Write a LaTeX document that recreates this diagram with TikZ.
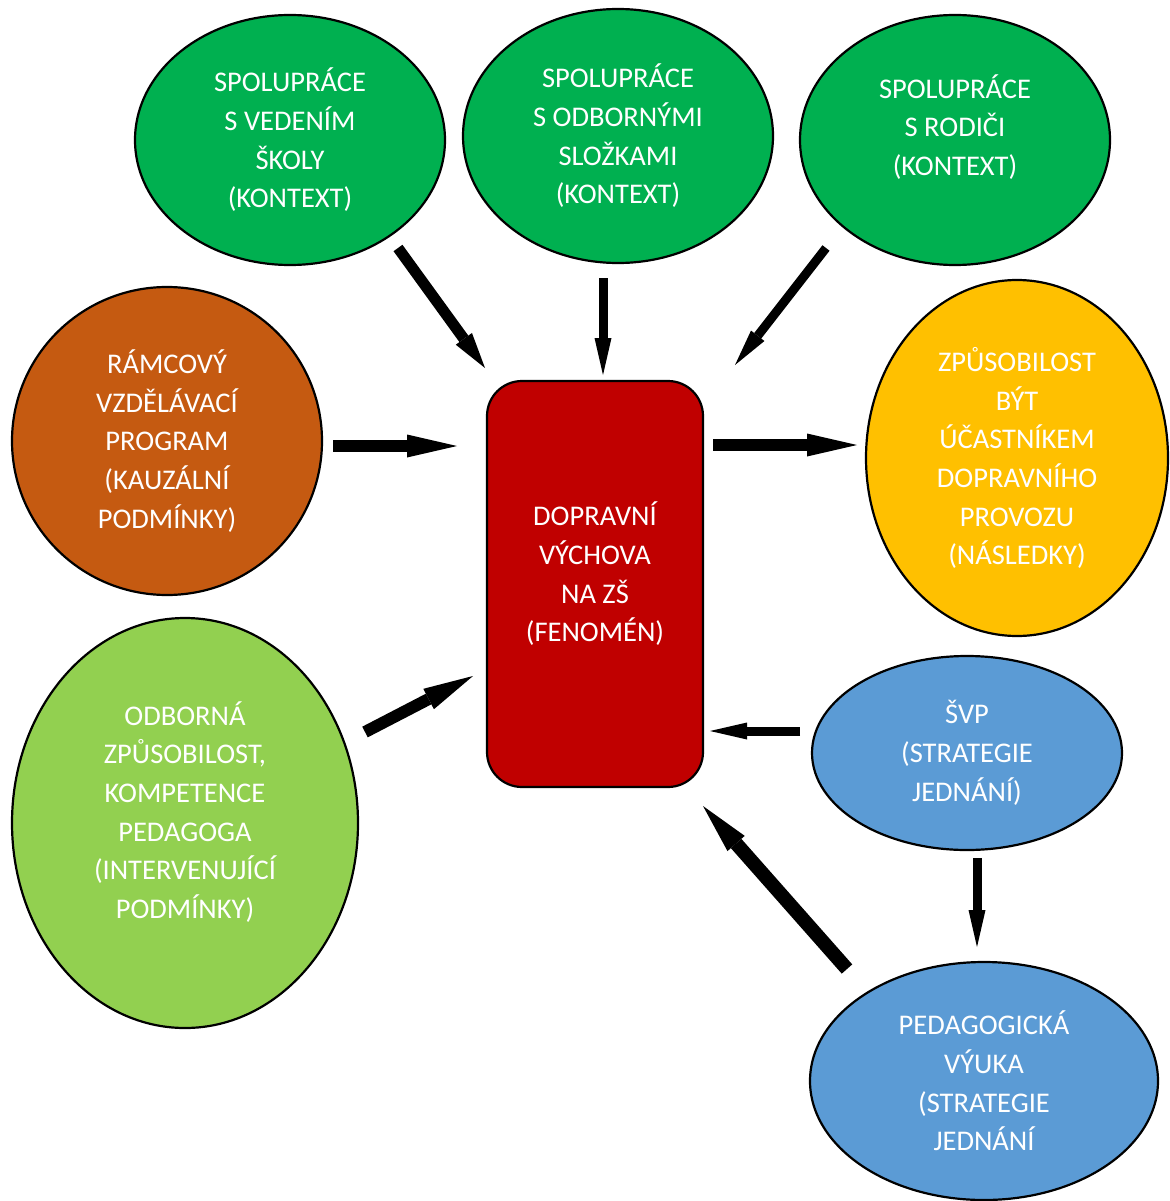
\documentclass[tikz,border=0pt]{standalone}
\usepackage{fontspec}
\setmainfont{Carlito}
\usetikzlibrary{shapes.geometric,arrows.meta}
\definecolor{kgreen}{HTML}{00B050}
\definecolor{kbrown}{HTML}{C55A11}
\definecolor{kred}{HTML}{C00000}
\definecolor{kyellow}{HTML}{FFC000}
\definecolor{klime}{HTML}{92D050}
\definecolor{kblue}{HTML}{5B9BD5}

\begin{document}
\begin{tikzpicture}[x=1pt,y=-1pt,
  ell/.style={ellipse,draw=black,line width=2.2pt,inner sep=0pt,text=white,align=center,font=\fontsize{28.5}{38.7}\selectfont},
  lbl/.style={text=white,align=center,font=\fontsize{28.5}{38.7}\selectfont},
  bigarrow/.style={line width=12pt,-{Triangle[length=50pt,width=23pt,line width=0pt]}},
  midarrow/.style={line width=11pt,-{Triangle[length=36pt,width=20pt,line width=0pt]}},
  smallarrow/.style={line width=9pt,-{Triangle[length=37pt,width=17pt,line width=0pt]}}]
\useasboundingbox (0,0) rectangle (1169,1201);
\node [ell,fill=kgreen,minimum width=310,minimum height=250] (vedeni) at (290,140) {SPOLUPRÁCE\\S VEDENÍM\\ŠKOLY\\(KONTEXT)};
\node [ell,fill=kgreen,minimum width=310,minimum height=254] (odborne) at (618,136) {SPOLUPRÁCE\\S ODBORNÝMI\\SLOŽKAMI\\(KONTEXT)};
\node [ell,fill=kgreen,minimum width=310,minimum height=250,label={[lbl,yshift=13pt]center:SPOLUPRÁCE\\S RODIČI\\(KONTEXT)}] (rodice) at (955,140) {};
\node [ell,fill=kbrown,minimum width=310,minimum height=308] (ramcovy) at (167,441) {RÁMCOVÝ\\VZDĚLÁVACÍ\\PROGRAM\\(KAUZÁLNÍ\\PODMÍNKY)};
\node [draw=black,line width=2.2pt,fill=kred,rounded corners=35pt,minimum width=216,minimum height=406,label={[lbl,yshift=10pt]center:DOPRAVNÍ\\VÝCHOVA\\NA ZŠ\\(FENOMÉN)}] (fenomen) at (595,584) {};
\node [ell,fill=kyellow,minimum width=302,minimum height=356] (nasledky) at (1017,458) {ZPŮSOBILOST\\BÝT\\ÚČASTNÍKEM\\DOPRAVNÍHO\\PROVOZU\\(NÁSLEDKY)};
\node [ell,fill=klime,minimum width=346,minimum height=410,label={[lbl,yshift=11pt]center:{ODBORNÁ\\ZPŮSOBILOST,\\KOMPETENCE\\PEDAGOGA\\(INTERVENUJÍCÍ\\PODMÍNKY)}}] (kompetence) at (185,823) {};
\node [ell,fill=kblue,minimum width=310,minimum height=194] (svp) at (967,753) {ŠVP\\(STRATEGIE\\JEDNÁNÍ)};
\node [ell,fill=kblue,minimum width=348,minimum height=238] (vyuka) at (984,1081) {PEDAGOGICKÁ\\VÝUKA\\(STRATEGIE\\JEDNÁNÍ};
\draw [midarrow] ([shift={(108,108)}]vedeni.center) -- ([shift={(-110,-216)}]fenomen.center);
\draw [smallarrow] ([shift={(-15,142)}]odborne.center) -- ([shift={(8,-209)}]fenomen.center);
\draw [smallarrow] ([shift={(-129,108)}]rodice.center) -- ([shift={(140,-219)}]fenomen.center);
\draw [bigarrow] ([shift={(166,5)}]ramcovy.center) -- ([shift={(-138,-138)}]fenomen.center);
\draw [bigarrow] ([shift={(118,-139)}]fenomen.center) -- ([shift={(-160,-13)}]nasledky.center);
\draw [bigarrow] ([shift={(180,-91)}]kompetence.center) -- ([shift={(-122,92)}]fenomen.center);
\draw [smallarrow] ([shift={(-167,-22)}]svp.center) -- ([shift={(115,147)}]fenomen.center);
\draw [smallarrow] ([shift={(10,105)}]svp.center) -- ([shift={(-7,-134)}]vyuka.center);
\draw [bigarrow,line width=14pt] ([shift={(-137,-112)}]vyuka.center) -- ([shift={(108,222)}]fenomen.center);
\end{tikzpicture}
\end{document}
